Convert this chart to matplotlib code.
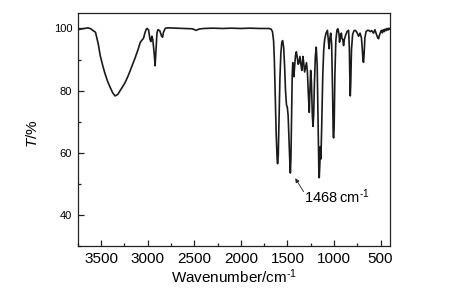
import matplotlib
matplotlib.use('Agg')
import matplotlib.pyplot as plt
from matplotlib.ticker import MultipleLocator

plt.rcParams['font.family'] = ['Liberation Sans', 'DejaVu Sans']
plt.rcParams['mathtext.fontset'] = 'custom'
plt.rcParams['mathtext.rm'] = 'Liberation Sans'
plt.rcParams['mathtext.it'] = 'Liberation Sans:italic'

# FT-IR spectrum (wavenumber cm-1, transmittance %)
wavenumber = [
    3750, 3720, 3680, 3640, 3610, 3590, 3560, 3530, 3510, 3480, 3457, 3430, 3403,
    3375, 3350, 3320, 3296, 3270, 3242, 3206, 3170, 3135, 3100, 3080, 3060, 3045,
    3030, 3015, 3005, 2990, 2975, 2965, 2955, 2945, 2930, 2920, 2910, 2900, 2890,
    2870, 2850, 2840, 2830, 2810, 2780, 2700, 2600, 2520, 2480, 2450, 2400, 2300,
    2200, 2100, 2000, 1900, 1800, 1700, 1675, 1660, 1648, 1640, 1630, 1620, 1610,
    1605, 1598, 1590, 1580, 1570, 1560, 1551, 1540, 1530, 1520, 1510, 1500, 1492,
    1485, 1475, 1468, 1462, 1455, 1448, 1442, 1436, 1430, 1422, 1412, 1404, 1395,
    1385, 1378, 1365, 1355, 1345, 1333, 1325, 1315, 1305, 1295, 1285, 1275, 1265,
    1258, 1250, 1242, 1232, 1225, 1218, 1210, 1200, 1190, 1180, 1170, 1162, 1158,
    1152, 1146, 1140, 1132, 1120, 1110, 1100, 1085, 1070, 1060, 1052, 1045, 1035,
    1025, 1015, 1008, 1004, 998, 990, 980, 968, 957, 945, 940, 932, 920, 914, 905,
    897, 888, 875, 860, 843, 835, 830, 825, 820, 812, 800, 785, 771, 755, 735, 720,
    705, 695, 688, 682, 676, 668, 655, 640, 628, 610, 595, 575, 560, 545, 530, 521,
    512, 500, 490, 480, 470, 460, 450, 440, 430, 420, 410, 400,
]
transmittance = [
    99.6, 99.8, 100.0, 100.2, 99.9, 99.4, 98.8, 95.0, 91.4, 87.8, 85.4, 83.0, 81.1,
    79.3, 78.3, 78.8, 80.0, 81.2, 82.6, 85.0, 87.8, 90.5, 93.5, 95.5, 96.3, 96.8,
    98.5, 99.8, 100.0, 99.5, 96.5, 95.8, 97.5, 96.5, 92.0, 88.0, 93.0, 98.5, 99.6,
    99.3, 97.5, 97.2, 98.8, 100.1, 100.2, 100.1, 100.0, 99.9, 99.4, 99.8, 100.0, 100.1,
    100.0, 100.1, 100.0, 100.1, 100.0, 100.0, 99.8, 99.0, 96.0, 90.0, 78.0, 66.0, 58.0,
    56.5, 59.0, 70.0, 84.0, 92.0, 95.5, 96.1, 94.0, 88.0, 80.0, 75.5, 74.5, 72.0,
    66.0, 58.0, 53.5, 58.0, 72.0, 85.0, 89.0, 85.0, 84.5, 88.0, 91.5, 92.5, 91.0,
    88.5, 88.7, 91.0, 88.5, 86.5, 91.0, 89.0, 86.0, 87.5, 89.0, 86.0, 79.0, 73.0,
    80.0, 86.5, 83.0, 72.0, 68.5, 72.0, 82.0, 91.0, 94.0, 88.0, 68.0, 54.0, 52.0,
    56.0, 62.0, 58.0, 68.0, 85.0, 93.0, 96.5, 98.5, 99.4, 96.0, 93.5, 96.5, 98.5,
    95.0, 80.0, 66.0, 64.8, 68.0, 85.0, 96.0, 99.5, 99.9, 98.0, 95.6, 97.5, 98.5, 96.7, 96.5,
    94.5, 96.5, 97.8, 99.0, 99.4, 94.0, 85.0, 78.3, 82.0, 93.0, 98.0, 99.3, 99.4, 98.8, 97.5, 98.5,
    97.0, 93.0, 89.5, 89.1, 92.0, 97.0, 99.0, 99.4, 99.4, 99.0, 99.3, 98.5, 99.6, 98.2, 97.0, 96.7,
    97.8, 98.8, 99.4, 98.6, 99.6, 99.0, 99.8, 99.3, 100.0, 99.5, 100.1, 99.8,
]

fig = plt.figure(figsize=(4.63, 2.94), dpi=100)
ax = fig.add_axes([0.168, 0.163, 0.674, 0.793])

ax.plot(wavenumber, transmittance, color='#1a1a1a', lw=1.2)

ax.set_xlim(3750, 400)
ax.set_ylim(30, 105)
ax.xaxis.set_major_locator(MultipleLocator(500))
ax.xaxis.set_minor_locator(MultipleLocator(250))
ax.set_yticks([40, 60, 80, 100])
ax.yaxis.set_minor_locator(MultipleLocator(10))

ax.tick_params(which='both', direction='in', top=False, right=False, color='#222222')
ax.tick_params(which='major', length=4, width=0.9)
ax.tick_params(which='minor', length=2.5, width=0.9)
ax.tick_params(axis='x', labelsize=11, pad=4)
ax.tick_params(axis='y', labelsize=8, pad=4)
for s in ax.spines.values():
    s.set_linewidth(0.9)
    s.set_color('#222222')

ax.set_xlabel('Wavenumber/cm$^{\\text{-1}}$', fontsize=11, labelpad=1)
ax.set_ylabel('$T$/%', fontsize=11)
ax.yaxis.set_label_coords(-0.122, 0.48)

ax.annotate('', xy=(1415, 51.8), xytext=(1326, 47.5),
            arrowprops=dict(arrowstyle='-|>', color='#222222', lw=0.6,
                            mutation_scale=6, shrinkA=0, shrinkB=0))
ax.text(1318, 43.7, '1468\u2009cm$^{\\text{-1}}$', fontsize=10.5, va='baseline', ha='left')

fig.savefig('out.png', dpi=100)
